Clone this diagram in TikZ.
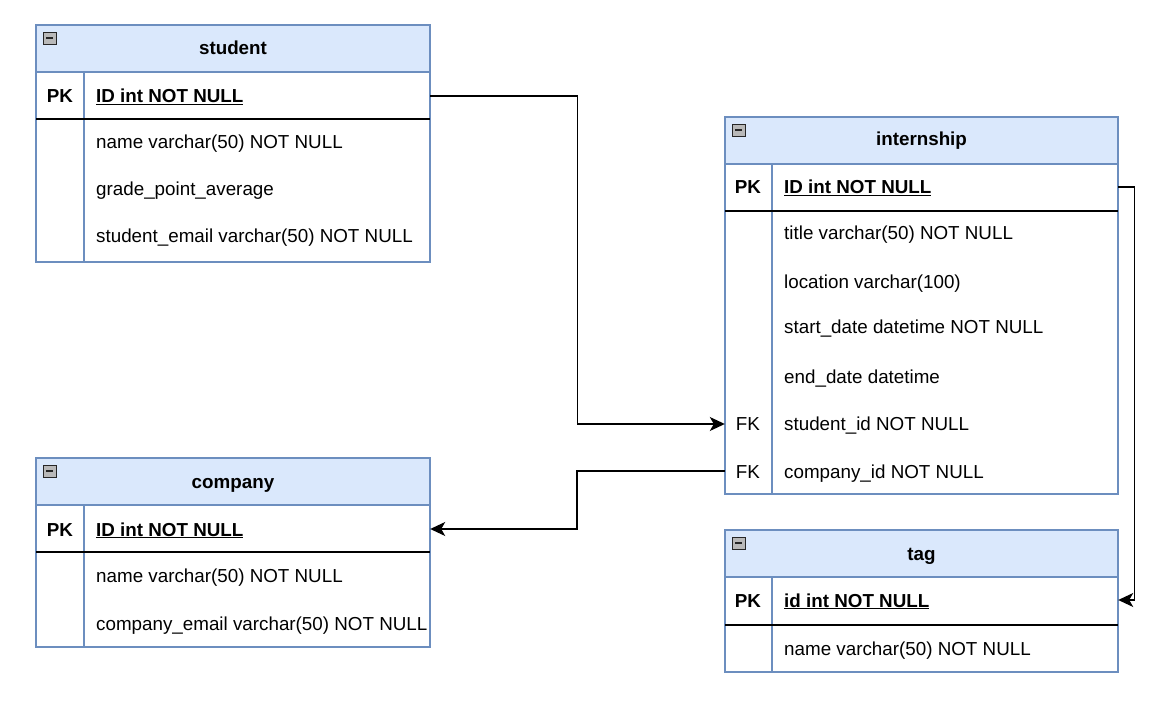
\documentclass[tikz,border=0pt]{standalone}
\usepackage{fontspec}
\setmainfont{Liberation Sans}
\usetikzlibrary{arrows.meta}
\definecolor{bord}{HTML}{6C8EBF}
\definecolor{hdr}{HTML}{DAE8FC}
\tikzset{
  tb/.style={draw=bord, line width=1.3pt},
  pkline/.style={draw=black, line width=1.8pt},
  txt/.style={inner sep=0pt, font=\fontsize{18.8}{22}\selectfont, anchor=base west},
  btxt/.style={inner sep=0pt, font=\fontsize{18.8}{22}\selectfont\bfseries, anchor=base},
  keytxt/.style={inner sep=0pt, font=\fontsize{18.8}{22}\selectfont, anchor=base},
  rowbox/.style={inner sep=0pt, minimum width=394pt, minimum height=47pt},
  conn/.style={draw=black, line width=1.4pt, -{Stealth[length=15pt,width=14pt,inset=4pt]}},
  icon/.style={draw=gray!30!black, fill=gray!55, line width=0.9pt}
}
\newcommand{\collapseicon}[2]{%
  \draw[icon] (#1,#2) rectangle ++(13,12);
  \draw[line width=2pt, black!85] (#1+3,#2+6) -- ++(7,0);
}
\begin{document}
\begin{tikzpicture}[x=1pt,y=-1pt]
\useasboundingbox (0,0) rectangle (1162,708);
% ---------- student ----------
\draw[tb, fill=hdr] (36,25) rectangle (430,72);
\draw[tb] (36,72) rectangle (430,262);
\draw[tb] (84,72) -- (84,262);
\draw[pkline] (36,119) -- (430,119);
\collapseicon{43}{32}
\node[btxt] (sth) at (233,55) {student};
\node[rowbox] (stpk) at (233,96) {};
\node[btxt] (stpkk) at (60,103) {PK};
\node[txt, font=\fontsize{18.8}{22}\selectfont\bfseries] (stid) at (96,103) {\underline{ID int NOT NULL}};
\node[txt] (st1) at (96,149) {name varchar(50) NOT NULL};
\node[txt] (st2) at (96,196) {grade\_point\_average};
\node[txt] (st3) at (96,243) {student\_email varchar(50) NOT NULL};
% ---------- internship ----------
\draw[tb, fill=hdr] (725,117) rectangle (1118,164);
\draw[tb] (725,164) rectangle (1118,494);
\draw[tb] (772,164) -- (772,494);
\draw[pkline] (725,211) -- (1118,211);
\collapseicon{732}{124}
\node[btxt] (inh) at (921.5,146) {internship};
\node[rowbox, minimum width=393pt] (inpk) at (921.5,187) {};
\node[btxt] (inpkk) at (748,194) {PK};
\node[txt, font=\fontsize{18.8}{22}\selectfont\bfseries] (inid) at (784,194) {\underline{ID int NOT NULL}};
\node[txt] (in1) at (784,240) {title varchar(50) NOT NULL};
\node[txt] (in2) at (784,289) {location varchar(100)};
\node[txt] (in3) at (784,334) {start\_date datetime NOT NULL};
\node[txt] (in4) at (784,384) {end\_date datetime};
\node[rowbox, minimum width=393pt] (infk1) at (921.5,424) {};
\node[keytxt] (infk1k) at (748,431) {FK};
\node[txt] (in5) at (784,431) {student\_id NOT NULL};
\node[rowbox, minimum width=393pt] (infk2) at (921.5,471) {};
\node[keytxt] (infk2k) at (748,478) {FK};
\node[txt] (in6) at (784,478) {company\_id NOT NULL};
% ---------- company ----------
\draw[tb, fill=hdr] (36,458) rectangle (430,505);
\draw[tb] (36,505) rectangle (430,647);
\draw[tb] (84,505) -- (84,647);
\draw[pkline] (36,552) -- (430,552);
\collapseicon{43}{465}
\node[btxt] (coh) at (233,488) {company};
\node[rowbox] (copk) at (233,529) {};
\node[btxt] (copkk) at (60,536) {PK};
\node[txt, font=\fontsize{18.8}{22}\selectfont\bfseries] (coid) at (96,536) {\underline{ID int NOT NULL}};
\node[txt] (co1) at (96,582) {name varchar(50) NOT NULL};
\node[txt] (co2) at (96,630) {company\_email varchar(50) NOT NULL};
% ---------- tag ----------
\draw[tb, fill=hdr] (725,530) rectangle (1118,577);
\draw[tb] (725,577) rectangle (1118,672);
\draw[tb] (772,577) -- (772,672);
\draw[pkline] (725,625) -- (1118,625);
\collapseicon{732}{537}
\node[btxt] (tgh) at (921.5,560) {tag};
\node[rowbox, minimum width=393pt] (tgpk) at (921.5,600) {};
\node[btxt] (tgpkk) at (748,607) {PK};
\node[txt, font=\fontsize{18.8}{22}\selectfont\bfseries] (tgid) at (784,607) {\underline{id int NOT NULL}};
\node[txt] (tg1) at (784,655) {name varchar(50) NOT NULL};
% ---------- connectors ----------
\draw[conn] (stpk.east) -- ++(147,0) |- (infk1.west);
\draw[conn] (infk2.west) -- ++(-148,0) |- (copk.east);
\draw[conn] (inpk.east) -- ++(16,0) |- (tgpk.east);
\end{tikzpicture}
\end{document}
